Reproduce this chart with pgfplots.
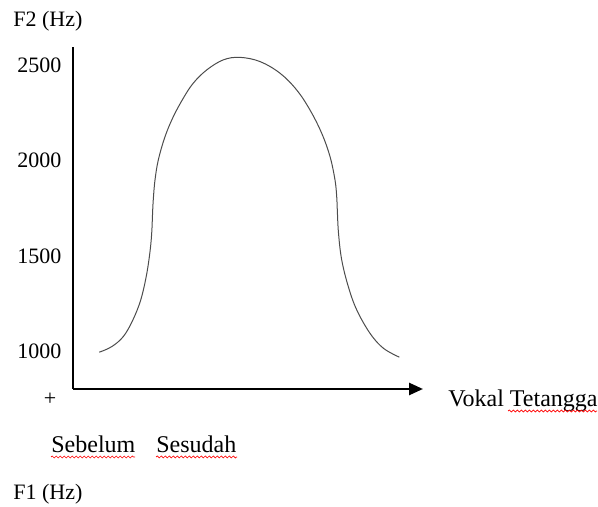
\documentclass[border=0pt]{standalone}
\usepackage{fontspec}
\setmainfont{Liberation Serif}
\usepackage{pgfplots}
\pgfplotsset{compat=1.18}
\usetikzlibrary{arrows.meta,decorations.pathmorphing}
\begin{document}
\fontsize{11}{13}\selectfont
\begin{tikzpicture}
\useasboundingbox (0pt,0pt) rectangle (299pt,253.5pt);
\begin{axis}[
  at={(36.5pt,59pt)}, anchor=south west,
  scale only axis, width=175pt, height=171.15pt,
  xmin=0, xmax=350, ymin=802, ymax=2597,
  axis x line=bottom, axis y line=left,
  x axis line style={line width=1.3pt, -{Triangle[length=7pt,width=6pt]}},
  y axis line style={line width=1.3pt, -},
  xtick=\empty, ytick={1000,1500,2000,2500},
  major tick length=0pt,
  yticklabel style={anchor=east, inner sep=0pt, xshift=-5.6pt},
  /pgf/number format/assume math mode=true,
  /pgf/number format/set thousands separator={},
  clip=false,
]
\addplot[smooth, tension=0.6, line width=0.5pt, color=black!70] coordinates {
(26.3,995)(38.7,1024)(50.3,1077)(59.5,1160)(67.5,1265)(73.2,1391)(76.8,1514)(78.7,1619)(79.7,1741)(80.5,1811)(82,1898)(85.3,2003)(92,2125)(100.3,2230)(110.3,2327)(120.3,2406)(133.7,2475)(150.3,2528)(167,2541)(187,2519)(207,2458)(223.7,2370)(237,2265)(248.7,2143)(257,2021)(262,1898)(263.7,1811)(264.3,1741)(265.5,1619)(268.7,1479)(275.3,1339)(283.7,1217)(297,1094)(310.3,1016)(326.3,969)
};
\end{axis}
\node[anchor=base west, inner sep=0pt] at (6.5pt,240pt) {F2 (Hz)};
\node[inner sep=0pt] at (25pt,54pt) {+};
\node[anchor=base west, inner sep=0pt, font=\fontsize{12}{14}\selectfont] at (25.5pt,27pt) {Sebelum};
\node[anchor=base west, inner sep=0pt, font=\fontsize{12}{14}\selectfont] at (78pt,27pt) {Sesudah};
\node[anchor=base west, inner sep=0pt] at (6.5pt,3.5pt) {F1 (Hz)};
\node[anchor=base west, inner sep=0pt, font=\fontsize{12}{14}\selectfont] at (224pt,50.25pt) {Vokal Tetangga};
\draw[red, line width=0.35pt, decorate, decoration={snake, amplitude=0.5pt, segment length=2pt}] (25.5pt,25pt) -- (67.5pt,25pt);
\draw[red, line width=0.35pt, decorate, decoration={snake, amplitude=0.5pt, segment length=2pt}] (78pt,25pt) -- (118.5pt,25pt);
\draw[red, line width=0.35pt, decorate, decoration={snake, amplitude=0.5pt, segment length=2pt}] (254pt,48pt) -- (298.5pt,48pt);
\end{tikzpicture}
\end{document}
